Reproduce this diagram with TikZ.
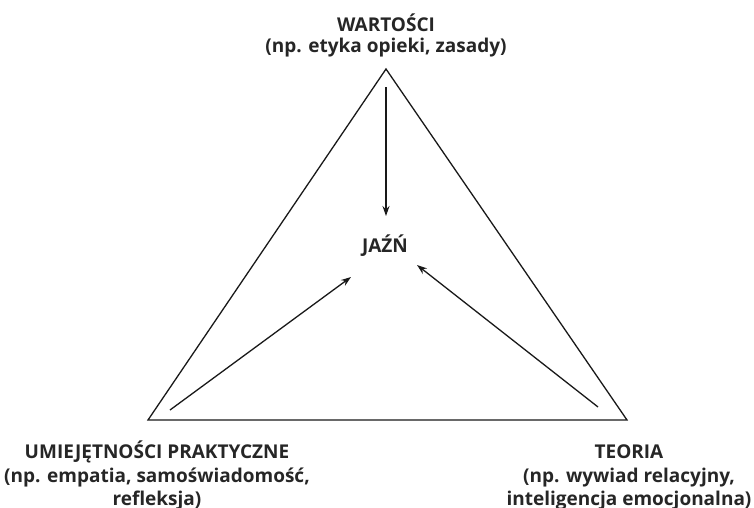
\documentclass[tikz,border=0pt]{standalone}
\usepackage{fontspec}
\setmainfont{Open Sans}
\usetikzlibrary{arrows.meta}
\begin{document}
\begin{tikzpicture}[x=1pt,y=-1pt,
  edge/.style={line width=1.3pt, black!90},
  flow/.style={line width=1.3pt, black!90, -{Stealth[length=10pt,width=7pt]}},
  lbl/.style={font=\fontsize{19}{23.5}\selectfont\bfseries, align=center, text=black!85, inner sep=0pt, anchor=base}]
  \useasboundingbox (0,0) rectangle (754,507);
  % corners of the triangle
  \coordinate (apex) at (386,69);
  \coordinate (bl) at (148,420);
  \coordinate (br) at (627,420);
  \draw[edge, line join=miter] (apex) -- (bl) -- (br) -- cycle;
  % labels (anchored at the baseline of their last line)
  \node[lbl, font=\fontsize{19}{21}\selectfont\bfseries] (top) at (386,52) {WARTOŚCI\\(np. etyka opieki, zasady)};
  \node[lbl] (self) at (385,252) {JAŹŃ};
  \node[lbl] (left) at (157,505.5) {UMIEJĘTNOŚCI PRAKTYCZNE\\(np. empatia, samoświadomość,\\refleksja)};
  \node[lbl] (right) at (629,505.5) {TEORIA\\(np. wywiad relacyjny,\\inteligencja emocjonalna)};
  % arrow start and end points
  \coordinate (s1) at (386,87);
  \coordinate (s2) at (170,410);
  \coordinate (s3) at (598,407);
  \coordinate (e1) at (386,216);
  \coordinate (e2) at (351,277);
  \coordinate (e3) at (417,265);
  \draw[flow] (s1) -- (e1);
  \draw[flow] (s2) -- (e2);
  \draw[flow] (s3) -- (e3);
\end{tikzpicture}
\end{document}
